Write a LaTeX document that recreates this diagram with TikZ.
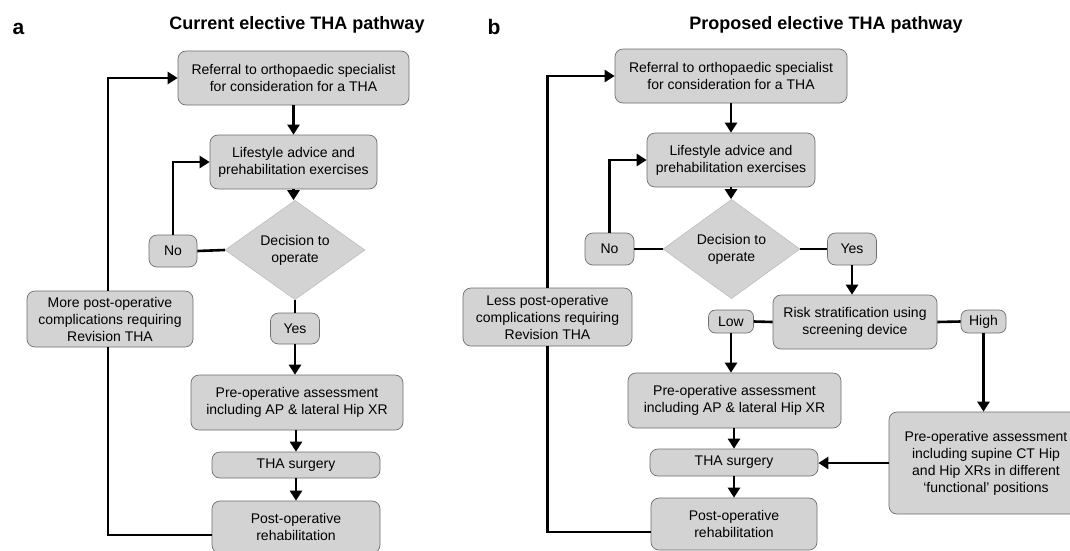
\documentclass[tikz,border=0pt]{standalone}
\usepackage{fontspec}
\setmainfont{Liberation Sans}
\usetikzlibrary{arrows.meta,shapes.geometric}
\definecolor{boxfill}{RGB}{211,211,211}
\definecolor{boxline}{RGB}{110,110,110}
\tikzset{
  box/.style={draw=boxline, fill=boxfill, rounded corners=8pt, line width=0.7pt,
    align=center, inner sep=0pt, font=\fontsize{14}{17}\selectfont},
  decision/.style={shape=diamond, draw=boxfill!85!black, fill=boxfill, line width=0.4pt,
    align=center, inner sep=0pt, font=\fontsize{14}{17}\selectfont},
  conn/.style={line width=2.6pt, draw=black},
  arr/.style={conn, -{Triangle[length=10pt,width=12pt]}},
  ttl/.style={font=\fontsize{18}{21}\selectfont\bfseries},
  panellab/.style={font=\fontsize{21}{24}\selectfont\bfseries, anchor=base}
}
\begin{document}
\begin{tikzpicture}[x=1pt,y=-1pt]
\useasboundingbox (0,0) rectangle (1070,550);
\clip (0,0) rectangle (1070,550);
\fill[white] (0,0) rectangle (1070,550);

% ---------- Panel a ----------
\node[panellab] (la) at (18.5,34) {a};
\node[ttl] (ta) at (297,25) {Current elective THA pathway};
\node[box, minimum width=231, minimum height=54] (refA) at (293.5,78) {Referral to orthopaedic specialist\\for consideration for a THA};
\node[box, minimum width=167, minimum height=54] (lifeA) at (293.5,162) {Lifestyle advice and\\prehabilitation exercises};
\node[decision, minimum width=140, minimum height=74] (decA) at (295,250) {Decision to\\operate};
\node[box, minimum width=48, minimum height=32] (noA) at (173,251) {No};
\node[box, minimum width=49, minimum height=31] (yesA) at (295,328.5) {Yes};
\node[box, minimum width=166, minimum height=56] (moreA) at (110,319) {More post-operative\\complications requiring\\Revision THA};
\node[box, minimum width=212, minimum height=55] (preA) at (297,402.5) {Pre-operative assessment\\including AP \& lateral Hip XR};
\node[box, minimum width=168, minimum height=26] (thaA) at (296,465) {THA surgery};
\node[box, minimum width=168, minimum height=52] (postA) at (296,527) {Post-operative\\rehabilitation};

\draw[arr] (refA.south) -- (refA.south |- lifeA.north);
\draw[arr] (lifeA.south) -- (lifeA.south |- decA.north);
\draw[conn] (noA.east) -- (decA.west);
\draw[arr] (noA.north) |- (lifeA.west);
\draw[conn] (decA.south) -- (decA.south |- yesA.north);
\draw[arr] (yesA.south) -- (yesA.south |- preA.north);
\draw[arr] (preA.south -| thaA) -- (thaA.north);
\draw[arr] (thaA.south) -- (postA.north);
\draw[conn] ([yshift=-8pt]postA.west) -| ([xshift=-2pt]moreA.south);
\draw[arr] ([xshift=-2pt]moreA.north) |- (refA.west);

% ---------- Panel b ----------
\node[panellab] (lb) at (494,34) {b};
\node[ttl] (tb) at (826,25) {Proposed elective THA pathway};
\node[box, minimum width=232, minimum height=54] (refB) at (731,76) {Referral to orthopaedic specialist\\for consideration for a THA};
\node[box, minimum width=168, minimum height=54] (lifeB) at (731,160) {Lifestyle advice and\\prehabilitation exercises};
\node[decision, minimum width=137, minimum height=74] (decB) at (731.5,249) {Decision to\\operate};
\node[box, minimum width=49, minimum height=32] (noB) at (609.5,249) {No};
\node[box, minimum width=49, minimum height=32] (yesB) at (852,249) {Yes};
\node[box, minimum width=164, minimum height=54] (riskB) at (855,322) {Risk stratification using\\screening device};
\node[box, minimum width=45, minimum height=23, rounded corners=7pt] (lowB) at (731,321.5) {Low};
\node[box, minimum width=45, minimum height=23, rounded corners=7pt] (highB) at (983.5,321.5) {High};
\node[box, minimum width=194, minimum height=102] (ctB) at (986,463) {Pre-operative assessment\\including supine CT Hip\\and Hip XRs in different\\`functional' positions};
\node[box, minimum width=213, minimum height=55] (preB) at (734.5,400.5) {Pre-operative assessment\\including AP \& lateral Hip XR};
\node[box, minimum width=168, minimum height=27] (thaB) at (734,462.5) {THA surgery};
\node[box, minimum width=166, minimum height=52] (postB) at (734,524) {Post-operative\\rehabilitation};
\node[box, minimum width=169, minimum height=58] (lessB) at (547.5,317) {Less post-operative\\complications requiring\\Revision THA};

\draw[arr] (refB.south) -- (refB.south |- lifeB.north);
\draw[arr] (lifeB.south) -- (lifeB.south |- decB.north);
\draw[conn] (noB.east) -- (decB.west);
\draw[conn] (decB.east) -- (yesB.west);
\draw[arr] (noB.north) |- (lifeB.west);
\draw[arr] (yesB.south) -- (yesB.south |- riskB.north);
\draw[conn] (lowB.east) -- (riskB.west);
\draw[conn] (riskB.east) -- (highB.west);
\draw[arr] (lowB.south) -- (lowB.south |- preB.north);
\draw[arr] (highB.south) -- (highB.south |- ctB.north);
\draw[arr] (ctB.west) -- (ctB.west -| thaB.east);
\draw[arr] (preB.south -| thaB) -- (thaB.north);
\draw[arr] (thaB.south) -- (postB.north);
\draw[conn] ([yshift=-8pt]postB.west) -| (lessB.south);
\draw[arr] (lessB.north) |- (refB.west);
\end{tikzpicture}
\end{document}
